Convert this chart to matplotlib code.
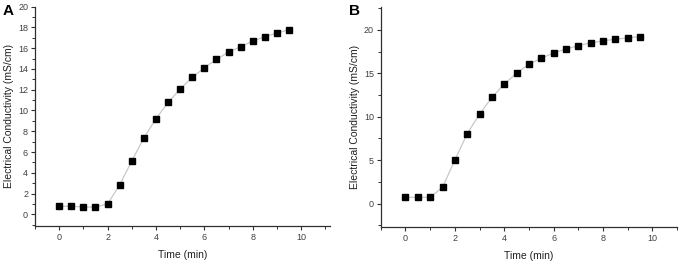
"""Electrical conductivity vs time, panels A and B."""

import matplotlib
matplotlib.use("Agg")
import matplotlib.pyplot as plt
from matplotlib.ticker import MultipleLocator

plt.rcParams["font.family"] = ["Liberation Sans", "DejaVu Sans"]

# --- data ---
time_min = [0, 0.5, 1, 1.5, 2, 2.5, 3, 3.5, 4, 4.5,
            5, 5.5, 6, 6.5, 7, 7.5, 8, 8.5, 9, 9.5]
cond_a = [0.77, 0.77, 0.70, 0.70, 1.00, 2.83, 5.14, 7.36, 9.20, 10.77,
          12.06, 13.18, 14.12, 14.92, 15.63, 16.14, 16.69, 17.10, 17.46, 17.78]
cond_b = [0.73, 0.73, 0.73, 1.88, 5.02, 8.05, 10.31, 12.22, 13.75, 15.02,
          16.05, 16.74, 17.36, 17.78, 18.20, 18.50, 18.74, 18.93, 19.08, 19.23]

panels = [
    ("A", cond_a, [0.0515, 0.1385, 0.434, 0.836], (-1, 11.2), (-1.1, 20), 2, 1),
    ("B", cond_b, [0.560, 0.135, 0.4357, 0.837], (-1, 11.0), (-2.65, 22.6), 5, 2.5),
]

fig = plt.figure(figsize=(6.8, 2.62), dpi=100)
spine_col = "#303030"
text_col = "#404040"

for letter, vals, rect, xl, yl, ymaj, ymin in panels:
    ax = fig.add_axes(rect)
    ax.plot(time_min, vals, color="#c8c8c8", linewidth=0.9, zorder=1)
    ax.plot(time_min, vals, linestyle="none", marker="s", markersize=3.7,
            color="black", zorder=2)

    ax.set_xlim(*xl)
    ax.set_ylim(*yl)
    ax.xaxis.set_major_locator(MultipleLocator(2))
    ax.xaxis.set_minor_locator(MultipleLocator(1))
    ax.yaxis.set_major_locator(MultipleLocator(ymaj))
    ax.yaxis.set_minor_locator(MultipleLocator(ymin))

    for side in ("top", "right"):
        ax.spines[side].set_visible(False)
    for side in ("left", "bottom"):
        ax.spines[side].set_color(spine_col)
        ax.spines[side].set_linewidth(0.9)

    ax.tick_params(axis="both", which="major", direction="out", length=3,
                   width=0.8, color=spine_col, labelsize=6.5,
                   labelcolor=text_col, pad=2)
    ax.tick_params(axis="both", which="minor", direction="out", length=2,
                   width=0.7, color=spine_col)

    ax.set_xlabel("Time (min)", fontsize=7.5, color="#202020", labelpad=6)
    ax.set_ylabel("Electrical Conductivity (mS/cm)", fontsize=7.5,
                  color="#202020", labelpad=3)

    fig.text(rect[0] - 0.047, 0.985, letter, fontsize=11, fontweight="bold",
             ha="left", va="top", color="black")

fig.savefig("out.png", dpi=100, facecolor="white")
